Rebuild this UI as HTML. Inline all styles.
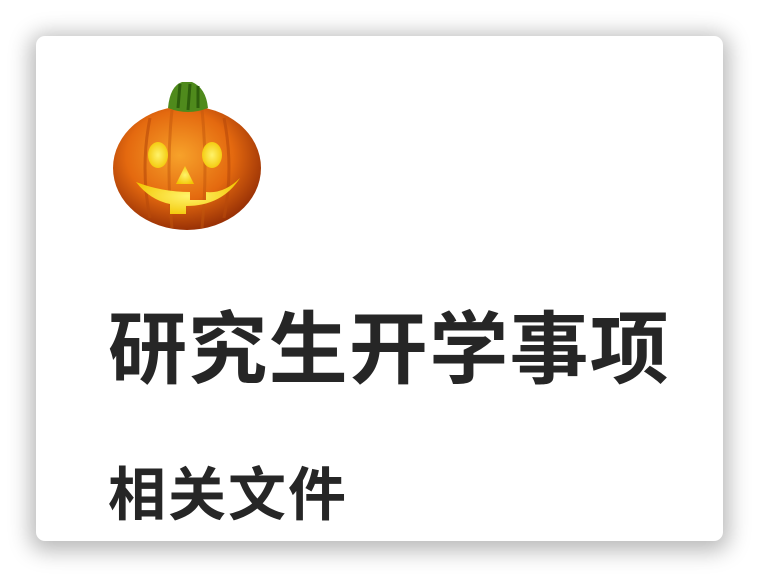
<!DOCTYPE html>
<html><head><meta charset="utf-8">
<style>
html,body{margin:0;padding:0;width:760px;height:578px;background:#fff;overflow:hidden}
.card{position:absolute;left:36px;top:36px;width:687px;height:505px;background:#fff;border-radius:9px;box-shadow:0 4px 22px 6px rgba(0,0,0,0.28)}
.title{position:absolute;left:72px;top:264px;font-family:"Liberation Sans","Noto Sans CJK SC",sans-serif;font-weight:bold;font-size:79px;line-height:100px;color:#262626;letter-spacing:1.3px;white-space:nowrap}
.sub{position:absolute;left:72px;top:420px;font-family:"Liberation Sans","Noto Sans CJK SC",sans-serif;font-weight:bold;font-size:58px;line-height:80px;color:#262626;letter-spacing:2px;white-space:nowrap}
svg{position:absolute;left:74px;top:42px}
</style></head>
<body>
<div class="card">
<svg width="154" height="154" viewBox="0 0 154 154">
<defs>
<radialGradient id="pg" cx="45%" cy="40%" r="60%">
<stop offset="0" stop-color="#f7a22a"/><stop offset="0.6" stop-color="#e4690f"/><stop offset="1" stop-color="#9a3206"/>
</radialGradient>
<radialGradient id="gl" cx="50%" cy="50%" r="60%"><stop offset="0" stop-color="#fff36a"/><stop offset="1" stop-color="#f2c400"/></radialGradient>
</defs>
<ellipse cx="77" cy="90" rx="74" ry="62" fill="url(#pg)"/>
<path d="M40 40 Q30 90 40 140" stroke="#b84a0a" stroke-width="3" fill="none" opacity="0.6"/>
<path d="M114 40 Q124 90 114 140" stroke="#b84a0a" stroke-width="3" fill="none" opacity="0.6"/>
<path d="M62 32 Q56 90 62 150" stroke="#c2560c" stroke-width="3" fill="none" opacity="0.5"/>
<path d="M92 32 Q98 90 92 150" stroke="#c2560c" stroke-width="3" fill="none" opacity="0.5"/>
<path d="M58 30 Q60 8 72 4 L82 4 Q96 10 98 30 Q78 38 58 30Z" fill="#4f8a1c"/>
<path d="M68 30 L70 6 M78 32 L80 6 M88 30 L88 8" stroke="#2e5f0c" stroke-width="3"/>
<ellipse cx="48" cy="77" rx="10" ry="13" fill="url(#gl)"/>
<ellipse cx="102" cy="77" rx="10" ry="13" fill="url(#gl)"/>
<path d="M75 88 L66 106 L84 106Z" fill="url(#gl)"/>
<path d="M26 104 Q40 122 60 126 L60 136 L76 136 L76 128 Q112 128 130 100 Q114 116 96 114 L96 122 L80 122 L80 114 Q52 114 26 104Z" fill="url(#gl)"/>
</svg>
<div class="title">研究生开学事项</div>
<div class="sub">相关文件</div>
</div>
</body></html>
